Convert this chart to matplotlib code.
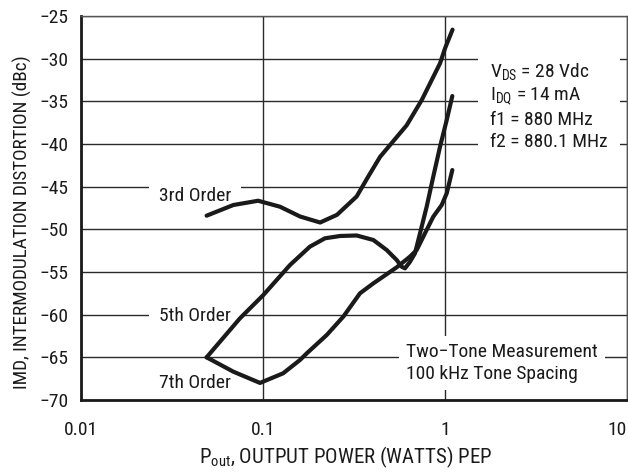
import matplotlib
matplotlib.use('Agg')
import matplotlib.pyplot as plt
from matplotlib.ticker import FixedLocator, NullLocator
from matplotlib import font_manager

names = {f.name for f in font_manager.fontManager.ttflist}
cands = ['Roboto Condensed', 'Liberation Sans Narrow', 'Roboto']
FONT = [c for c in cands if c in names] + ['DejaVu Sans']
plt.rcParams['font.family'] = FONT
plt.rcParams['mathtext.fontset'] = 'custom'
plt.rcParams['mathtext.rm'] = FONT[0]
plt.rcParams['mathtext.it'] = FONT[0]
plt.rcParams['mathtext.bf'] = FONT[0]

# ---- data ----
x_ticks = [0.01, 0.1, 1, 10]
x_tick_labels = ['0.01', '0.1', '1', '10']
y_ticks = [-70, -65, -60, -55, -50, -45, -40, -35, -30, -25]
y_tick_labels = ['\u221270', '\u221265', '\u221260', '\u221255', '\u221250',
                 '\u221245', '\u221240', '\u221235', '\u221230', '\u221225']

p3 = [0.049, 0.0687, 0.094, 0.124, 0.160, 0.206, 0.255, 0.327, 0.379, 0.44,
      0.616, 0.745, 0.939, 1.0, 1.10]
imd3 = [-48.4, -47.15, -46.65, -47.35, -48.5, -49.2, -48.3, -46.15, -43.8, -41.5,
        -37.8, -34.85, -30.55, -28.8, -26.6]

p5 = [0.049, 0.0747, 0.1004, 0.1407, 0.181, 0.219, 0.265, 0.327, 0.404, 0.478,
      0.543, 0.578, 0.603, 0.642, 0.684, 0.729, 0.793, 0.862, 0.939, 1.022, 1.097]
imd5 = [-65.0, -60.43, -57.7, -54.18, -52.03, -51.05, -50.78, -50.72, -51.25, -52.42,
        -53.6, -54.38, -54.57, -53.8, -52.81, -50.47, -47.35, -43.83, -40.32, -37.19, -34.38]

p7 = [0.049, 0.0687, 0.0963, 0.129, 0.1597, 0.174, 0.224, 0.276, 0.341, 0.404,
      0.543, 0.642, 0.699, 0.776, 0.862, 0.959, 1.022, 1.097]
imd7 = [-65.0, -66.68, -68.0, -66.87, -65.31, -64.53, -62.38, -60.24, -57.5, -56.33,
        -54.45, -53.2, -52.42, -50.47, -48.52, -47.15, -45.78, -43.05]

TXT = '#1a1a1a'
FS = 14

fig = plt.figure(figsize=(6.28, 4.74), dpi=100)
ax = fig.add_axes([81 / 628, 1 - 400 / 474, (627 - 81) / 628, (400 - 16) / 474])
ax.set_xscale('log')
ax.set_xlim(0.01, 10)
ax.set_ylim(-70, -25)

ax.xaxis.set_major_locator(FixedLocator(x_ticks))
ax.xaxis.set_minor_locator(NullLocator())
ax.set_xticklabels(x_tick_labels)
ax.yaxis.set_major_locator(FixedLocator(y_ticks))
ax.set_yticklabels(y_tick_labels)
ax.tick_params(axis='both', length=0, labelsize=FS, colors=TXT)
ax.tick_params(axis='x', pad=15)
ax.tick_params(axis='y', pad=9)
ax.get_xticklabels()[-1].set_ha('right')

ax.grid(True, color='#2a2a2a', linewidth=1.0, zorder=0.5)
ax.set_axisbelow(True)
for side in ('left', 'bottom'):
    ax.spines[side].set_linewidth(2.0)
    ax.spines[side].set_color(TXT)
for side in ('top', 'right'):
    ax.spines[side].set_linewidth(1.0)
    ax.spines[side].set_color('#555555')

for xs, ys in ((p3, imd3), (p5, imd5), (p7, imd7)):
    ax.plot(xs, ys, color=TXT, linewidth=3.0, solid_joinstyle='round',
            solid_capstyle='round', zorder=3)

box = dict(facecolor='white', edgecolor='none', pad=7)
ax.text(0.0423, -46.1, '3rd Order', fontsize=FS, ha='center', va='center',
        bbox=box, zorder=2, color=TXT)
ax.text(0.0423, -60.16, '5th Order', fontsize=FS, ha='center', va='center',
        bbox=box, zorder=2, color=TXT)
ax.text(0.0423, -68.0, '7th Order', fontsize=FS, ha='center', va='center',
        color=TXT, zorder=2)

ax.text(1.766, -35.55,
        'V$_{\\mathrm{DS}}$ = 28 Vdc\nI$_{\\mathrm{DQ}}$ = 14 mA\nf1 = 880 MHz\nf2 = 880.1 MHz',
        fontsize=FS, ha='left', va='center', linespacing=1.3, color=TXT,
        bbox=dict(facecolor='white', edgecolor='none', pad=9), zorder=2)

ax.text(0.61, -65.67, 'Two\u2212Tone Measurement\n100 kHz Tone Spacing',
        fontsize=FS, ha='left', va='center', linespacing=1.3, color=TXT,
        bbox=dict(facecolor='white', edgecolor='none', pad=5), zorder=2)

fig.text(346 / 628, 1 - 457 / 474, 'P$_{\\mathrm{out}}$, OUTPUT POWER (WATTS) PEP',
         fontsize=15, ha='center', va='center', color=TXT)
fig.text(22 / 628, 1 - 222 / 474, 'IMD, INTERMODULATION DISTORTION (dBc)',
         fontsize=13.8, ha='center', va='center', rotation=90, color=TXT)

fig.savefig('out.png', dpi=100)
